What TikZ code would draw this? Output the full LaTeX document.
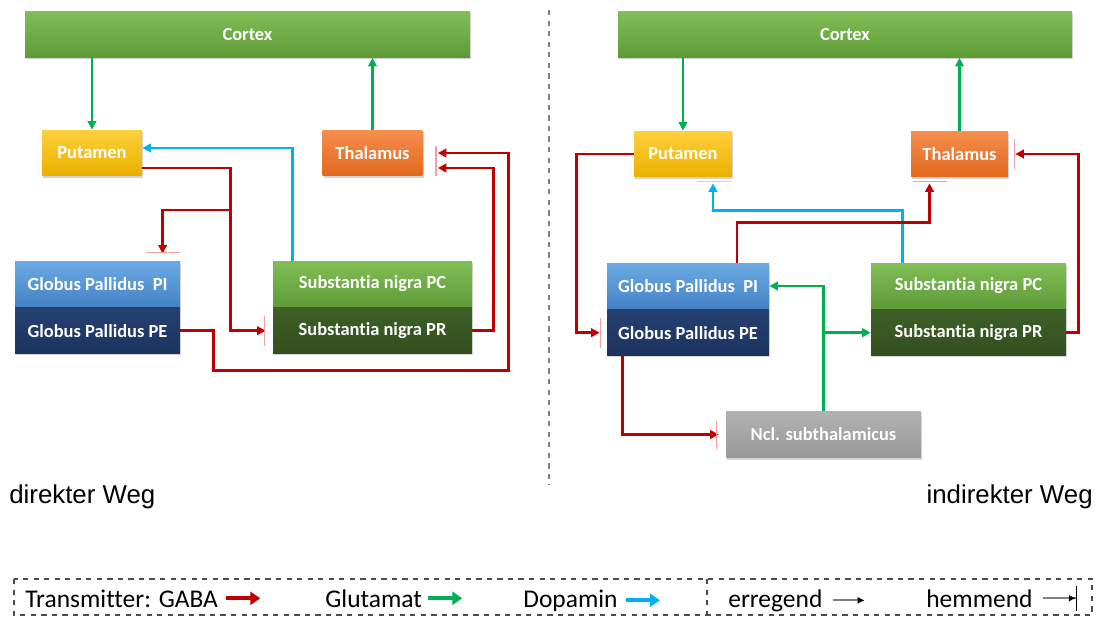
\documentclass[tikz,border=0pt]{standalone}
\usepackage{fontspec}
\setmainfont{Carlito}[Ligatures=CommonOff]
\newfontfamily\arialfont{Liberation Sans}
\usetikzlibrary{arrows.meta,calc,positioning,shadows}
\definecolor{gabared}{HTML}{C00000}
\definecolor{glugreen}{HTML}{00B050}
\definecolor{dopblue}{HTML}{00B0F0}
\definecolor{hemred}{HTML}{F2A0A0}
\definecolor{hemblue}{HTML}{A8E2F8}
\tikzset{
  box/.style={minimum height=0.92cm, inner sep=0pt, text=white,
    font=\fontsize{10.5}{12}\selectfont\bfseries,
    drop shadow={shadow xshift=0.7pt,shadow yshift=-0.9pt,opacity=0.35}},
  greenbox/.style={box, top color={rgb,255:red,130;green,190;blue,86}, bottom color={rgb,255:red,94;green,155;blue,55}},
  yellowbox/.style={box, top color={rgb,255:red,255;green,208;blue,60}, bottom color={rgb,255:red,234;green,176;blue,0}},
  orangebox/.style={box, top color={rgb,255:red,245;green,142;blue,78}, bottom color={rgb,255:red,226;green,104;blue,30}},
  bluebox/.style={box, top color={rgb,255:red,108;green,170;blue,228}, bottom color={rgb,255:red,68;green,130;blue,198}},
  navybox/.style={box, top color={rgb,255:red,37;green,64;blue,112}, bottom color={rgb,255:red,28;green,51;blue,96}},
  darkgreenbox/.style={box, top color={rgb,255:red,62;green,96;blue,39}, bottom color={rgb,255:red,50;green,79;blue,31}},
  graybox/.style={box, top color={rgb,255:red,178;green,178;blue,178}, bottom color={rgb,255:red,152;green,152;blue,152}},
  tip/.style={-{Triangle[length=0.17cm,width=0.17cm]}},
  gaba/.style={tip, draw=gabared, line width=1.5pt},
  glu/.style={tip, draw=glugreen, line width=1.5pt},
  dop/.style={tip, draw=dopblue, line width=1.5pt},
  hbar/.style={draw=hemred, line width=0.8pt},
  hbarblue/.style={draw=hemblue, line width=0.8pt},
  lgtext/.style={anchor=base west, inner sep=0pt, font=\fontsize{14.5}{17}\selectfont},
  lgarrow/.style={line width=2.2pt, -{Triangle[length=0.2cm,width=0.26cm]}}
}
\begin{document}
\begin{tikzpicture}[x=0.02cm,y=-0.02cm]
  \useasboundingbox (0,0) rectangle (1096,618);
  % direkter Weg
  \node[greenbox, minimum width=8.9cm] (cortexL) at (247.5,34.5) {Cortex};
  \node[yellowbox, minimum width=2cm] (putL) at (92,153) {Putamen};
  \node[orangebox, minimum width=2cm] (thalL) at (372.5,153) {Thalamus};
  \node[bluebox, minimum width=3.3cm] (gpiL) at (97.5,284) {Globus Pallidus~~PI};
  \node[navybox, minimum width=3.3cm, below=0pt of gpiL] (gpeL) {Globus Pallidus PE};
  \node[greenbox, minimum width=3.98cm] (pcL) at (372.5,284) {Substantia nigra PC};
  \node[darkgreenbox, minimum width=3.98cm, below=0pt of pcL] (prL) {Substantia nigra PR};
  \draw[glu] (cortexL.south -| putL.north) -- (putL.north);
  \draw[glu] (thalL.north) -- (thalL.north |- cortexL.south);
  \draw[dop] ($(pcL.north west)+(20,0)$) |- ($(putL.east)+(0,-5)$);
  \draw[gaba] ($(putL.east)+(0,15)$) -- ++(88,0) |- ($(prL.west)+(-7,0)$);
  \draw[gaba] ($(putL.east)+(88,57)$) -| ($(gpiL.north west)+(148,-7)$);
  \draw[gaba] (prL.east) -- ++(21,0) |- ($(thalL.east)+(15,15)$);
  \draw[gaba] (gpeL.east) -- ++(33,0) -- ++(0,40) -- ++(295,0) |- ($(thalL.east)+(15,0)$);
  \draw[hbar] ($(gpiL.north east)+(-34,-8)$) -- ($(gpiL.north east)+(0,-8)$);
  \draw[hbar] ($(prL.west)+(-8,-15)$) -- ($(prL.west)+(-8,15)$);
  \draw[hbar] ($(thalL.east)+(13,-7)$) -- ($(thalL.east)+(13,23)$);
  % Trennlinie
  \draw[gray, dashed, line width=0.6pt] (549,10) -- (549,485);
  % indirekter Weg
  \node[greenbox, minimum width=9.08cm] (cortexR) at (845,34.5) {Cortex};
  \node[yellowbox, minimum width=1.96cm] (putR) at (683,154) {Putamen};
  \node[orangebox, minimum width=1.94cm] (thalR) at (959.5,154) {Thalamus};
  \node[bluebox, minimum width=3.24cm] (gpiR) at (688,286) {Globus Pallidus~~PI};
  \node[navybox, minimum width=3.24cm, below=0pt of gpiR] (gpeR) {Globus Pallidus PE};
  \node[greenbox, minimum width=3.9cm] (pcR) at (968.5,286) {Substantia nigra PC};
  \node[darkgreenbox, minimum width=3.9cm, below=0pt of pcR] (prR) {Substantia nigra PR};
  \node[graybox, minimum width=3.9cm, minimum height=0.94cm] (nclR) at (823.5,434.5) {Ncl. subthalamicus};
  \draw[glu] (cortexR.south -| putR.north) -- (putR.north);
  \draw[glu] (thalR.north) -- (thalR.north |- cortexR.south);
  \draw[gaba] (putR.west) -- ++(-57,0) |- ($(gpeR.west)+(-7,0)$);
  \draw[dop] ($(pcR.north west)+(32,0)$) -- ++(0,-52) -| ($(putR.south)+(30,6)$);
  \draw[gaba] ($(gpiR.north)+(49,0)$) -- ++(0,-40) -| ($(thalR.south)+(-30,6)$);
  \draw[gaba] (prR.east) -- ++(12,0) |- ($(thalR.east)+(7,0)$);
  \draw[gaba] ($(gpeR.south west)+(16,0)$) |- ($(nclR.west)+(-7,0)$);
  \draw[glu] (nclR.north) |- (gpiR.east);
  \draw[glu] (nclR.north |- prR.west) -- (prR.west);
  \draw[hbarblue] ($(putR.south east)+(-35,4)$) -- ($(putR.south east)+(0,4)$);
  \draw[hbar] ($(thalR.south)+(-47,4)$) -- ($(thalR.south)+(-13,4)$);
  \draw[hbar] ($(thalR.east)+(6,-15)$) -- ($(thalR.east)+(6,15)$);
  \draw[hbar] ($(gpeR.west)+(-6,-15)$) -- ($(gpeR.west)+(-6,15)$);
  \draw[hbar] ($(nclR.west)+(-9,-14)$) -- ($(nclR.west)+(-9,14)$);
  % Beschriftung
  \node[anchor=west, inner sep=0pt, font=\arialfont\fontsize{14.7}{17}\selectfont] (dirW) at (9,497) {direkter Weg};
  \node[anchor=east, inner sep=0pt, font=\arialfont\fontsize{14.7}{17}\selectfont] (indW) at (1093,497) {indirekter Weg};
  % Legende
  \draw[black!70, dashed, line width=0.6pt] (14,579) rectangle (1092,615);
  \draw[black!70, dashed, line width=0.6pt] (707,579) -- (707,615);
  \node[lgtext] (lgGaba) at (25,607) {Transmitter: GABA};
  \node[lgtext] (lgGlu) at (325,607) {Glutamat};
  \node[lgtext] (lgDop) at (523,607) {Dopamin};
  \node[lgtext] (lgErr) at (728,607) {erregend};
  \node[lgtext] (lgHem) at (926,607) {hemmend};
  \draw[lgarrow, gabared] ($(lgGaba.east)+(8,0)$) -- ++(34,0);
  \draw[lgarrow, glugreen] ($(lgGlu.east)+(6,0)$) -- ++(34,0);
  \draw[lgarrow, dopblue] ($(lgDop.east)+(8,0)$) -- ++(34,0);
  \draw[gray, line width=1.2pt, -{Latex[color=black,length=4pt,width=4pt]}] ($(lgErr.east)+(10,0)$) -- ++(32,0);
  \draw[gray, line width=1.2pt, -{Latex[color=black,length=4pt,width=4pt]Bar[color=black,width=0.5cm,line width=0.6pt]}] ($(lgHem.east)+(10,0)$) -- ++(34,0);
\end{tikzpicture}
\end{document}
